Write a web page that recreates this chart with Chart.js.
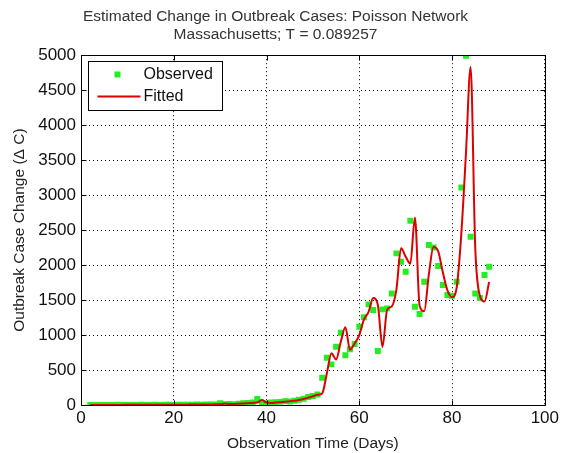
<!DOCTYPE html>
<html>
<head>
<meta charset="utf-8">
<script src="https://cdn.jsdelivr.net/npm/chart.js@4"></script>
<style>
  html, body { margin: 0; padding: 0; background: #fff; }
</style>
</head>
<body>
<canvas id="chart" width="562" height="453"></canvas>
<script>
// ================= DATA =================
const days = [
  2, 3, 4, 5, 6, 7, 8, 9, 10, 11, 12, 13, 14, 15, 16, 17, 18, 19, 20, 21,
  22, 23, 24, 25, 26, 27, 28, 29, 30, 31, 32, 33, 34, 35, 36, 37, 38, 39, 40, 41,
  42, 43, 44, 45, 46, 47, 48, 49, 50, 51, 52, 53, 54, 55, 56, 57, 58, 59, 60, 61,
  62, 63, 64, 65, 66, 67, 68, 69, 70, 71, 72, 73, 74, 75, 76, 77, 78, 79, 80, 81,
  82, 83, 84, 85, 86, 87, 88
];

const observed = [
  0, 1, 0, 2, 1, 0, 3, 1, 2, 0, 1, 3, 2, 1, 4, 2, 3, 5, 2, 4,
  3, 5, 4, 6, 5, 8, 6, 9,
  25, 10, 15, 12, 20, 25, 30, 35, 85, 30, 25, 35, 40, 45, 55, 50, 60, 75, 90, 115, 130, 150,
  390, 676, 581, 833, 1033, 710, 796, 871, 1119, 1253, 1438, 1357, 771, 1367, 1381, 1595,
  2167, 2048, 1905, 2633, 1405, 1300, 1762, 2286, 2250, 1986, 1714, 1571, 1560, 1762,
  3110, 4990, 2405, 1595, 1530, 1857, 1976
];

const fitted = [
  0, 0, 1, 1, 1, 1, 1, 2, 2, 2, 2, 2, 3, 3, 3, 3, 4, 4, 4, 5,
  5, 5, 6, 6, 7, 8, 8, 9,
  10, 20, 15, 15, 18, 22, 25, 30, 35, 70, 35, 30, 35, 40, 45, 55, 60, 70, 85, 105, 125, 145,
  165, 450, 740, 650, 900, 1110, 790, 880, 1000, 1220, 1330, 1530, 1430, 830, 1360, 1410,
  1650, 2240, 2120, 2020, 2680, 1420, 1340, 1870, 2260, 2200, 1900, 1640, 1540, 1680,
  2450, 3600, 4830, 2250, 1560, 1480, 1760
];

const xTicks = [0, 20, 40, 60, 80, 100];
const yTicks = [0, 500, 1000, 1500, 2000, 2500, 3000, 3500, 4000, 4500, 5000];

const titleLines = [
  "Estimated Change in Outbreak Cases: Poisson Network",
  "Massachusetts; T = 0.089257"
];
const legendLabels = ["Observed", "Fitted"];

const GREEN = "#22ee22";
const RED = "#dd0000";
const FONT = "'Liberation Sans', Arial, sans-serif";

// ================= PLUGINS =================
// box round the axes, inward tick marks, legend box
const framePlugin = {
  id: "frame",
  afterDraw(chart) {
    const ctx = chart.ctx;
    const a = chart.chartArea;
    const xs = chart.scales.x, ys = chart.scales.y;
    const L = Math.round(a.left) + 0.5, R = Math.round(a.right) + 0.5;
    const T = Math.round(a.top) + 0.5, B = Math.round(a.bottom) + 0.5;
    ctx.save();
    ctx.strokeStyle = "#000";
    ctx.lineWidth = 1;
    ctx.strokeRect(L, T, R - L, B - T);

    ctx.beginPath();
    xTicks.forEach(v => {
      const px = Math.round(xs.getPixelForValue(v)) + 0.5;
      ctx.moveTo(px, B); ctx.lineTo(px, B - 5);
      ctx.moveTo(px, T); ctx.lineTo(px, T + 5);
    });
    yTicks.forEach(v => {
      const py = Math.round(ys.getPixelForValue(v)) + 0.5;
      ctx.moveTo(L, py); ctx.lineTo(L + 5, py);
      ctx.moveTo(R, py); ctx.lineTo(R - 5, py);
    });
    ctx.stroke();

    // legend
    const lx = L + 7, ly = T + 6, lw = 134, lh = 49;
    ctx.fillStyle = "#fff";
    ctx.fillRect(lx, ly, lw, lh);
    ctx.strokeRect(lx, ly, lw, lh);

    ctx.fillStyle = GREEN;
    ctx.fillRect(lx + 26, ly + 10, 6, 6);

    ctx.strokeStyle = RED;
    ctx.lineWidth = 2;
    ctx.beginPath();
    ctx.moveTo(lx + 9, ly + 35);
    ctx.lineTo(lx + 52, ly + 35);
    ctx.stroke();

    ctx.fillStyle = "#111";
    ctx.font = "16px " + FONT;
    ctx.textBaseline = "middle";
    ctx.textAlign = "left";
    ctx.fillText(legendLabels[0], lx + 55, ly + 13);
    ctx.fillText(legendLabels[1], lx + 55, ly + 35);
    ctx.restore();
  }
};

// ================= CHART =================
new Chart(document.getElementById("chart"), {
  type: "line",
  data: {
    datasets: [
      {
        label: legendLabels[1],
        data: days.map((d, i) => ({ x: d, y: fitted[i] })),
        borderColor: RED,
        borderWidth: 2,
        pointRadius: 0,
        cubicInterpolationMode: "monotone",
        order: 0
      },
      {
        label: legendLabels[0],
        data: days.map((d, i) => ({ x: d, y: observed[i] })),
        showLine: false,
        pointStyle: "rect",
        pointRadius: 4.2,
        pointBackgroundColor: GREEN,
        pointBorderWidth: 0,
        order: 1
      }
    ]
  },
  options: {
    responsive: false,
    animation: false,
    layout: { padding: { left: 6, right: 17, top: 0, bottom: 0 } },
    plugins: {
      legend: { display: false },
      tooltip: { enabled: false },
      title: {
        display: true,
        text: titleLines,
        color: "#333",
        font: { family: FONT, size: 15.5, weight: "normal", lineHeight: 1.2 },
        padding: { top: 7, bottom: 11 }
      }
    },
    scales: {
      x: {
        type: "linear",
        min: 0,
        max: 100,
        afterBuildTicks: s => { s.ticks = xTicks.map(v => ({ value: v })); },
        afterFit: s => { s.height = 48; },
        ticks: { color: "#111", font: { family: FONT, size: 17 }, padding: 3, callback: v => String(v) },
        grid: { color: "#000", drawTicks: false },
        border: { display: false, dash: [1, 3] },
        title: {
          display: true,
          text: "Observation Time (Days)",
          color: "#222",
          font: { family: FONT, size: 15.5 },
          padding: { top: 2, bottom: 0 }
        }
      },
      y: {
        min: 0,
        max: 5000,
        afterBuildTicks: s => { s.ticks = yTicks.map(v => ({ value: v })); },
        afterFit: s => { s.width = 75; },
        ticks: { color: "#111", font: { family: FONT, size: 17 }, padding: 5, callback: v => String(v) },
        grid: { color: "#000", drawTicks: false },
        border: { display: false, dash: [1, 3] },
        title: {
          display: true,
          text: "Outbreak Case Change (Δ C)",
          color: "#222",
          font: { family: FONT, size: 15.5 },
          padding: { top: 4, bottom: 0 }
        }
      }
    }
  },
  plugins: [framePlugin]
});
</script>
</body>
</html>
